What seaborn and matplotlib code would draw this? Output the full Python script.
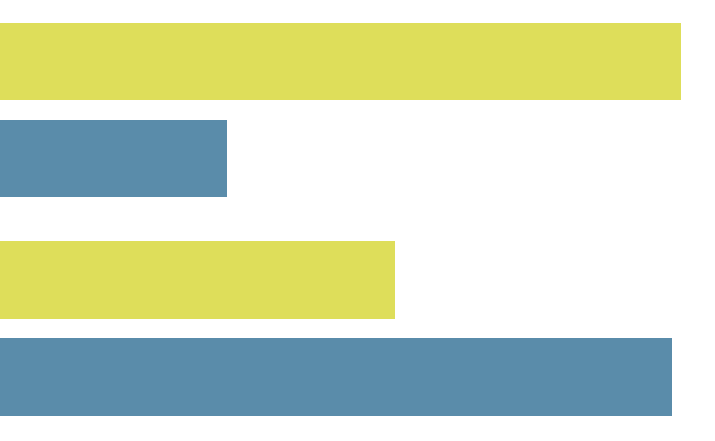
import numpy as np
import pandas as pd
import matplotlib
matplotlib.use("Agg")
import matplotlib.pyplot as plt
import seaborn as sns

categories = ["A", "B"]
series = ["Series 1", "Series 2"]
series1_values = [95.2, 55.3]
series2_values = [31.8, 94.0]

colors = ["#dede5a", "#5a8caa"]

df = pd.DataFrame({
    "category": categories * 2,
    "series": [series[0]] * 2 + [series[1]] * 2,
    "value": series1_values + series2_values,
})

sns.set_theme(style="white")

fig = plt.figure(figsize=(7.15, 4.41), dpi=100)
ax = fig.add_axes([0, 0, 1, 1])
sns.barplot(data=df, y="category", x="value", hue="series", orient="h",
            palette=colors, width=0.888, gap=0.2, saturation=1,
            linewidth=0, legend=False, ax=ax)

ax.set_xlim(0, 100)
ax.set_ylim(1.515, -0.503)
ax.axis("off")

fig.savefig("out.png", dpi=100)
